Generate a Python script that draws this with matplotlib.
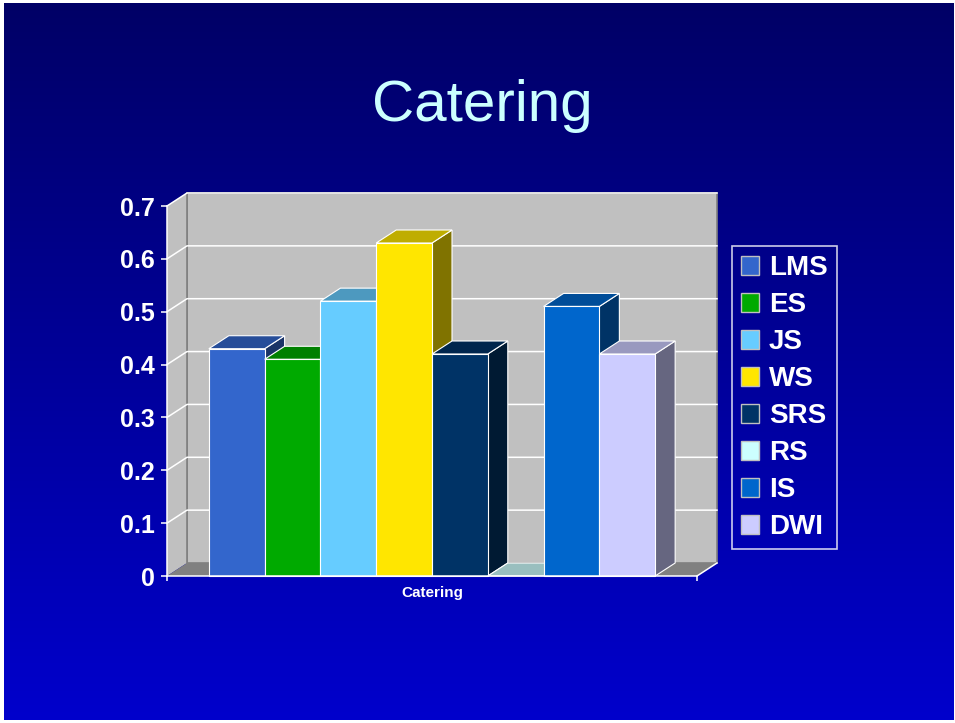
import matplotlib

matplotlib.use("Agg")
import matplotlib.pyplot as plt  # noqa: E402
import numpy as np  # noqa: E402
from matplotlib.colors import to_rgb  # noqa: E402
from matplotlib.patches import Patch, Polygon  # noqa: E402

plt.rcParams["font.family"] = ["Liberation Sans", "DejaVu Sans"]

categories = ["Catering"]
series = ["LMS", "ES", "JS", "WS", "SRS", "RS", "IS", "DWI"]
values = [0.43, 0.41, 0.52, 0.63, 0.42, 0.0, 0.51, 0.42]
colors = ["#3366CC", "#00AA00", "#66CCFF", "#FFE600",
          "#003366", "#CCFFFF", "#0066CC", "#CCCCFF"]
y_ticks = [0, 0.1, 0.2, 0.3, 0.4, 0.5, 0.6, 0.7]
y_labels = ["0", "0.1", "0.2", "0.3", "0.4", "0.5", "0.6", "0.7"]

W, H = 955, 723
DEPTH_PX = np.array([20.0, 13.0])  # oblique offset of the back plane
WALL = "#C0C0C0"
FLOOR = "#808080"


def shade(color, k):
    return tuple(k * c for c in to_rgb(color))


fig = plt.figure(figsize=(W / 100, H / 100), dpi=100, facecolor="white")

# slide background: vertical navy-to-blue gradient
bg = fig.add_axes([4 / W, 3 / H, 949 / W, 717 / H])
t = np.linspace(0, 1, 256)[:, None]
top_c, bot_c = np.array([0, 0, 0.40]), np.array([0, 0, 0.80])
grad = (top_c + (bot_c - top_c) * t)[:, None, :]
bg.imshow(grad, aspect="auto", extent=[0, 1, 0, 1])
bg.axis("off")

fig.text(482 / W, 1 - 121 / H, "Catering", color="#CCFFFF", fontsize=42,
         ha="center", va="baseline")

# front plane of the plot area
ax = fig.add_axes([167 / W, 1 - 576 / H, 530 / W, 370 / H])
ax.set_xlim(-0.5, 0.5)
ax.set_ylim(0, 0.7)
ax.patch.set_visible(False)

origin = ax.transData.transform((0, 0))
dx, dy = ax.transData.inverted().transform(origin + DEPTH_PX)
x0, x1 = ax.get_xlim()
ytop = ax.get_ylim()[1]

ax.add_patch(Polygon([(x0 + dx, dy), (x1 + dx, dy), (x1 + dx, ytop + dy),
                      (x0 + dx, ytop + dy)], closed=True, fc=WALL,
                     ec=FLOOR, lw=1.2, clip_on=False, zorder=1))
ax.add_patch(Polygon([(x0, 0), (x0 + dx, dy), (x0 + dx, ytop + dy),
                      (x0, ytop)], closed=True, fc=WALL, ec="none",
                     clip_on=False, zorder=1))
ax.add_patch(Polygon([(x0, 0), (x1, 0), (x1 + dx, dy), (x0 + dx, dy)],
                     closed=True, fc=FLOOR, ec="none", clip_on=False,
                     zorder=1))
ax.plot([x1, x1 + dx], [0, dy], color="white", lw=1.1, clip_on=False,
        zorder=2)
ax.plot([x0 + dx, x0 + dx], [dy, ytop + dy], color=FLOOR, lw=1.2,
        clip_on=False, zorder=2)

for v in y_ticks[1:]:
    ax.plot([x0, x0 + dx, x1 + dx], [v, v + dy, v + dy], color="white",
            lw=1.1, clip_on=False, zorder=2)

# 3-D bars, left to right so each one hides its neighbour's side face
n = len(series)
w = 1.0 / (n + 1.5)
for i, (val, col) in enumerate(zip(values, colors)):
    left = -0.5 + 0.75 * w + i * w
    right = left + w
    z = 3 + i
    ax.add_patch(Polygon([(right, 0), (right + dx, dy), (right + dx, val + dy),
                          (right, val)], closed=True, fc=shade(col, 0.5),
                         ec="white", lw=0.8, clip_on=False, zorder=z))
    ax.add_patch(Polygon([(left, val), (right, val), (right + dx, val + dy),
                          (left + dx, val + dy)], closed=True,
                         fc=shade(col, 0.75), ec="white", lw=0.8,
                         clip_on=False, zorder=z))
    if val > 0:
        ax.bar(left, val, width=w, align="edge", color=col, edgecolor="white",
               lw=0.8, zorder=z + 0.5, clip_on=False)

for side in ("top", "right"):
    ax.spines[side].set_visible(False)
for side in ("left", "bottom"):
    ax.spines[side].set_color("white")
    ax.spines[side].set_linewidth(1.1)
    ax.spines[side].set_zorder(20)

ax.set_yticks(y_ticks, y_labels)
ax.tick_params(axis="y", colors="white", labelsize=18, length=4.5, width=1.1,
               pad=4.3)
for lbl in ax.get_yticklabels():
    lbl.set_fontweight("bold")

ax.set_xticks([x0, x1], ["", ""])
ax.tick_params(axis="x", which="major", colors="white", length=3.5, width=1.1)
ax.set_xticks([0], categories, minor=True)
ax.tick_params(axis="x", which="minor", colors="white", length=0, pad=7,
               labelsize=11)
for lbl in ax.get_xticklabels(minor=True):
    lbl.set_fontweight("bold")

handles = [Patch(fc=c, ec="#C0C0C0", lw=1) for c in colors]
leg = fig.legend(handles, series, loc="upper left",
                 bbox_to_anchor=(732 / W, 1 - 246 / H), frameon=True,
                 fancybox=False, facecolor="none", edgecolor="white",
                 labelcolor="white", prop={"size": 20, "weight": "bold"},
                 handlelength=0.65, handleheight=0.65, handletextpad=0.35,
                 labelspacing=0.396, borderpad=0.33, borderaxespad=0)
leg.get_frame().set_linewidth(1.2)

fig.savefig("out.png", dpi=100)
